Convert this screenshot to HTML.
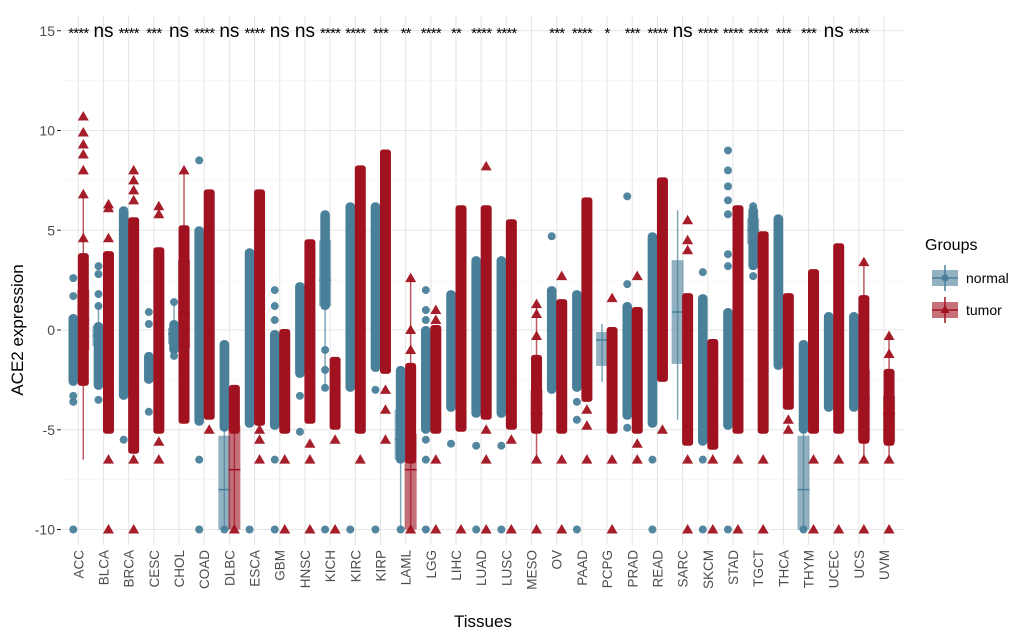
<!DOCTYPE html>
<html><head><meta charset="utf-8"><style>
body{margin:0;background:#fff;}
svg text{font-family:"Liberation Sans",sans-serif;}
</style></head><body>
<svg id="chart" width="1020" height="634" viewBox="0 0 1020 634" xmlns="http://www.w3.org/2000/svg">
<g id="grid"></g>
<g id="boxes"></g>
<g id="points"></g>
<g id="sig"></g>
<g id="axes"></g>
<text x="483" y="627" font-size="17" text-anchor="middle" fill="#000">Tissues</text>
<text transform="translate(23,330) rotate(-90)" font-size="17" text-anchor="middle" fill="#000">ACE2 expression</text>
<g>
<text x="925" y="250" font-size="16" fill="#000">Groups</text>
<g>
<rect x="932" y="270" width="26" height="16" fill="#4a7f9a" fill-opacity="0.6"/>
<line x1="945" y1="265" x2="945" y2="291" stroke="#4a7f9a" stroke-width="1.5"/>
<line x1="932" y1="278" x2="958" y2="278" stroke="#4a7f9a" stroke-width="1.5"/>
<circle cx="945" cy="278" r="3.5" fill="#4a7f9a"/>
<text x="966" y="283" font-size="14" fill="#000">normal</text></g>
<g>
<rect x="932" y="302" width="26" height="16" fill="#a0121f" fill-opacity="0.6"/>
<line x1="945" y1="297" x2="945" y2="323" stroke="#a0121f" stroke-width="1.5"/>
<line x1="932" y1="310" x2="958" y2="310" stroke="#a0121f" stroke-width="1.5"/>
<path d="M945,305 L949.5,313 L940.5,313 Z" fill="#a0121f"/>
<text x="966" y="315" font-size="14" fill="#000">tumor</text></g>
</g>
</svg>
<script>
const tissues=["ACC","BLCA","BRCA","CESC","CHOL","COAD","DLBC","ESCA","GBM","HNSC","KICH","KIRC","KIRP","LAML","LGG","LIHC","LUAD","LUSC","MESO","OV","PAAD","PCPG","PRAD","READ","SARC","SKCM","STAD","TGCT","THCA","THYM","UCEC","UCS","UVM"];
const sigLabels=["****","ns","****","***","ns","****","ns","****","ns","ns","****","****","***","**","****","**","****","****","","***","****","*","***","****","ns","****","****","****","***","***","ns","****",""];
const yTicks=[-10,-5,0,5,10,15];
const normalDense=[[-2.6,0.6],[-2.8,0.2],[-3.3,6.0],[-2.5,-1.3],[-1.0,0.3],[-4.6,5.0],[-4.9,-0.7],[-4.7,3.9],[-4.8,-0.2],[-2.2,2.2],[1.2,5.8],[-2.9,6.2],[-1.9,6.2],[-6.5,-2.0],[-5,0],[-3.9,1.8],[-4.2,3.5],[-4.2,3.5],null,[-3.0,2.0],[-2.9,1.8],null,[-4.3,1.2],[-4.7,4.7],null,[-5.6,1.6],[-4.8,0.9],[3.2,6.0],[-1.8,5.6],[-5,-0.7],[-3.9,0.7],[-3.9,0.7],null];
const normalOut=[[2.6,1.7,-3.3,-3.6,-10],[3.2,2.8,1.8,1.2,-3.5],[-5.5],[0.9,0.3,-4.1],[1.4,-1.3],[8.5,-6.5,-10],[-10],[-10],[2.0,1.2,0.5,-6.5,-10],[-3.3,-5.1],[-1,-2,-2.9,-10],[-10],[-3.0,-10],[-10],[2,1,0.5,-5.5,-6.5,-10],[-5.7],[-5.8,-10],[-5.8,-10],[],[4.7],[-3.6,-4.5,-10],[],[6.7,2.3,-3.7,-4.9],[-6.5,-10],[],[2.9,-6.5,-10],[9.0,8.0,7.2,6.5,5.8,3.8,3.2,-10],[6.2,2.7],[],[-10],[],[],[]];
const normalBox=[null,[-0.8,-0.3,0.2,-2.8,1.2],null,null,[-0.7,-0.2,0.1,-1.3,1.4],null,[-10,-8,-5.3,-10,-0.7],null,null,null,[1.2,2.5,4.5,-2.9,5.8],null,null,[-6.5,-5.5,-4,-10,-2],null,null,null,null,null,null,null,[-1.8,-0.5,-0.1,-2.6,0.3],null,null,[-1.7,0.9,3.5,-4.5,6.0],null,null,[4.3,5,5.6,3.2,6.2],null,[-10,-8,-5.3,-10,-0.7],null,null,null];
const tumorDense=[[-2.6,3.6],[-5,3.7],[-6,5.4],[-5,3.9],[-4.5,5.0],[-4.3,6.8],[-5,-3],[-4.6,6.8],[-5,-0.2],[-4.5,4.3],[-4.8,-1.6],[-5,8.0],[-2.0,8.8],[-6.5,-1.9],[-5,0],[-4.9,6.0],[-4.3,6.0],[-4.8,5.3],[-5.0,-1.5],[-5,1.3],[-3.4,6.4],[-5,-0.1],[-5,0.9],[-2.4,7.4],[-5.6,1.6],[-5.8,-0.7],[-5,6.0],[-5,4.7],[-3.8,1.6],[-5,2.8],[-5,4.1],[-5.5,1.5],[-5.6,-2.2]];
const tumorOut=[[10.7,9.9,9.3,8.8,8.0,6.8,4.6],[6.3,6.1,4.6,-6.5,-10],[8.0,7.5,7.0,6.5,-6.5,-10],[6.2,5.8,-5.6,-6.5],[8.0],[-5],[-10],[-5,-5.5,-6.5],[-6.5,-10],[-5.7,-6.5,-10],[-5.5,-10],[-6.5],[-3,-4,-5.5],[2.6,0,-1,-10],[1,0.5,-6.5,-10],[-10],[8.2,-5,-6.5,-10],[-5.5,-10],[1.3,0.8,-0.3,-6.5,-10],[2.7,-6.5,-10],[-4.0,-4.8,-6.5],[1.6,-6.5,-10],[2.7,-5.7,-6.5],[-5],[5.5,4.5,4.0,-6.5,-10],[-6.5,-10],[-6.5,-10],[-6.5,-10],[-4.5,-5],[-6.5,-10],[-6.5,-10],[3.4,-6.5,-10],[-0.3,-1.2,-6.5,-10]];
const tumorBox=[[-1.0,0.5,2.0,-6.5,6.8],null,null,null,[-0.9,0.8,3.5,-4.5,8.0],null,[-10,-7,-4.8,-10,-3],null,null,null,null,null,null,[-10,-7,-5.2,-10,2.6],null,null,null,null,[-5,-4.2,-3,-6.5,1.3],null,null,null,null,null,null,null,null,null,null,null,null,[-5.5,-3.5,-2.0,-6.5,3.4],[-5.6,-4.2,-3.3,-6.5,-0.3]];

const NS="http://www.w3.org/2000/svg";
const X0=78.3,DX=25.18,Y0=330,DY=19.95,PL=62,PR=905,PT=15,PB=545;
function xs(i){return X0+DX*i;}
function ys(v){return Y0-DY*v;}
function mk(tag,attrs,parent){const e=document.createElementNS(NS,tag);for(const k in attrs)e.setAttribute(k,attrs[k]);parent.appendChild(e);return e;}
const C={n:"#4a7f9a",t:"#a0121f"};
const grid=document.getElementById('grid'),boxes=document.getElementById('boxes'),pts=document.getElementById('points'),sig=document.getElementById('sig'),axes=document.getElementById('axes');
for(let v=-10;v<=15;v+=2.5){const major=(v%5===0);
 const l=mk('line',{x1:PL,x2:PR,y1:ys(v),y2:ys(v),stroke:major?"#e6e6e6":"#f2f2f2","stroke-width":major?1.1:0.6},grid);
 
 }
tissues.forEach((t,i)=>{const l=mk('line',{x1:xs(i),x2:xs(i),y1:PT,y2:PB,stroke:"#e6e6e6","stroke-width":1.1},grid);
 
 });
yTicks.forEach(v=>{const t=mk('text',{x:55,y:ys(v)+5,"font-size":14,"text-anchor":"end",fill:"#4d4d4d"},axes);t.textContent=String(v);
 
 
 const tk=mk('line',{x1:57,x2:61,y1:ys(v),y2:ys(v),stroke:"#333","stroke-width":1},axes);
 
 });
tissues.forEach((t,i)=>{const tx=mk('text',{transform:`translate(${xs(i)+5},550) rotate(-90)`,"font-size":13.5,"text-anchor":"end",fill:"#4d4d4d"},axes);tx.textContent=t;
 
 });
sigLabels.forEach((s,i)=>{if(!s)return;const tx=mk('text',{x:xs(i),y:s==="ns"?37:38,"font-size":s==="ns"?19:15,"text-anchor":"middle",fill:"#000","letter-spacing":s==="ns"?0:-0.8},sig);tx.textContent=s;
 
 });
function drawBox(b,cx,col,name){if(!b)return;
 const [q1,md,q3,wl,wh]=b;
 const w=mk('line',{x1:cx,x2:cx,y1:ys(wh),y2:ys(wl),stroke:col,"stroke-width":1.5,"stroke-opacity":0.7},boxes);
 
 
 const r=mk('rect',{x:cx-6,y:ys(q3),width:12,height:ys(q1)-ys(q3),fill:col,"fill-opacity":0.6},boxes);
 
 
 const m=mk('line',{x1:cx-6,x2:cx+6,y1:ys(md),y2:ys(md),stroke:col,"stroke-width":1.5},boxes);
 
 }
function circ(cx,v,name){const c=mk('circle',{cx:cx,cy:ys(v),r:4,fill:C.n,"fill-opacity":0.95},pts);
 
 }
function tri(cx,v,name){const y=ys(v);const p=mk('path',{d:`M${cx},${y-5.5} L${cx+5.5},${y+4} L${cx-5.5},${y+4} Z`,fill:C.t,"fill-opacity":0.95},pts);
 
 }
tissues.forEach((t,i)=>{const k=t.toLowerCase();
 const xn=xs(i)-5,xt=xs(i)+5;
 drawBox(normalBox[i],xn,C.n,k+'-normal');
 drawBox(tumorBox[i],xt,C.t,k+'-tumor');
 const nd=normalDense[i];
 if(nd){const r=mk('rect',{x:xn-4.8,y:ys(nd[1])-4,width:9.6,height:ys(nd[0])-ys(nd[1])+8,rx:4.5,fill:C.n},pts);
  
  }
 normalOut[i].forEach(v=>circ(xn,v,k+'-normal-point'));
 const td=tumorDense[i];
 if(td){const r=mk('rect',{x:xt-5.5,y:ys(td[1])-5,width:11,height:ys(td[0])-ys(td[1])+9,rx:3,fill:C.t},pts);
  
  }
 tumorOut[i].forEach(v=>tri(xt,v,k+'-tumor-point'));
});
</script>
</body></html>
